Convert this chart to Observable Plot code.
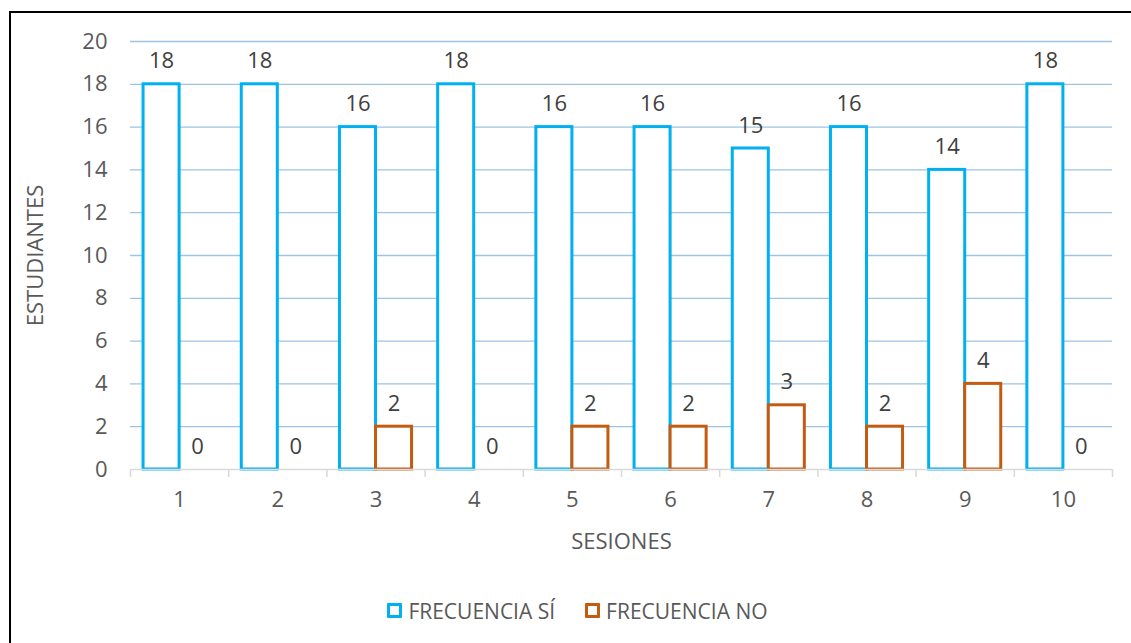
<!DOCTYPE html>
<html><head><meta charset="utf-8">
<script src="https://cdn.jsdelivr.net/npm/d3@7"></script>
<script src="https://cdn.jsdelivr.net/npm/@observablehq/plot@0.6"></script>
<style>
html,body{margin:0;padding:0;background:#fff;overflow:hidden;width:1131px;height:643px;}
#wrap{position:relative;width:1131px;height:643px;font-family:"Open Sans",Lato,sans-serif;}
#frame{position:absolute;left:9px;top:11px;width:1200px;height:700px;border-left:2px solid #000;border-top:2px solid #000;pointer-events:none;}
#chart{position:absolute;left:0;top:0;}
#legend{position:absolute;left:24px;top:596px;width:1107px;text-align:center;font-size:21px;color:#595959;line-height:28px;}
.lg{display:inline-flex;align-items:center;margin:0 15px;}
.sw{display:inline-block;width:9px;height:9px;border:3px solid;border-radius:1px;margin-right:6px;}
</style></head>
<body><div id="wrap"><div id="chart"></div><div id="legend"></div><div id="frame"></div></div>
<script>
const sessions = [1,2,3,4,5,6,7,8,9,10];
const frecSi = [18,18,16,18,16,16,15,16,14,18];
const frecNo = [0,0,2,0,2,2,3,2,4,0];
const yTicks = [0,2,4,6,8,10,12,14,16,18,20];
const seriesNames = ["FRECUENCIA SÍ","FRECUENCIA NO"];
const colors = ["#00B0F0","#C55A11"];

const half = 0.367;
const si = sessions.map((s,i)=>({s, v: frecSi[i], x1: s - half, x2: s}));
const no = sessions.map((s,i)=>({s, v: frecNo[i], x1: s, x2: s + half}));

const FONT = "'Open Sans', Lato, sans-serif";
const FS = 22;
const W = 1131, H = 580;
const chart = Plot.plot({
  width: W, height: H,
  marginLeft: 130, marginRight: 19, marginTop: 41, marginBottom: 111,
  style: {fontFamily: FONT, color: "#595959", background: "transparent"},
  x: {domain: [0.5, 10.5], axis: null},
  y: {domain: [0, 20], axis: null},
  marks: [
    Plot.gridY(yTicks.filter(d=>d>0), {stroke: "#9DC3E6", strokeOpacity: 1, strokeWidth: 1.3}),
    Plot.rectY(si, {x1: "x1", x2: "x2", y: "v", fill: "#fff", stroke: colors[0], strokeWidth: 3}),
    Plot.rectY(no.filter(d=>d.v>0), {x1: "x1", x2: "x2", y: "v", fill: "#fff", stroke: colors[1], strokeWidth: 3}),
    Plot.ruleY([0], {stroke: "#D9D9D9", strokeWidth: 1.5}),
    Plot.axisX(d3.range(0.5, 11, 1), {tickSize: 8, stroke: "#D9D9D9", strokeWidth: 1.5, tickFormat: () => "", label: null}),
    Plot.axisX(sessions, {tickSize: 0, tickPadding: 22, fontSize: FS, fill: "#595959", label: null}),
    Plot.axisY(yTicks, {tickSize: 0, tickPadding: 23, fontSize: FS, fill: "#595959", label: null}),
    Plot.text(["SESIONES"], {frameAnchor: "bottom", dy: 72, lineAnchor: "middle", fontSize: FS, fill: "#595959"}),
    Plot.text(["ESTUDIANTES"], {frameAnchor: "left", dx: -95, rotate: -90, textAnchor: "middle", lineAnchor: "middle", fontSize: FS, fill: "#595959"}),
    Plot.text(si, {x: d => (d.x1+d.x2)/2, y: "v", text: d => String(d.v), dy: -23, fontSize: FS, fill: "#404040"}),
    Plot.text(no, {x: d => (d.x1+d.x2)/2, y: "v", text: d => String(d.v), dy: -23, fontSize: FS, fill: "#404040"})
  ]
});
document.getElementById("chart").appendChild(chart);

const lg = document.getElementById("legend");
seriesNames.forEach((n,i)=>{
  const span = document.createElement("span"); span.className="lg";
  const sw = document.createElement("span"); sw.className="sw"; sw.style.borderColor = colors[i];
  span.appendChild(sw); span.appendChild(document.createTextNode(n));
  lg.appendChild(span);
});
</script></body></html>
